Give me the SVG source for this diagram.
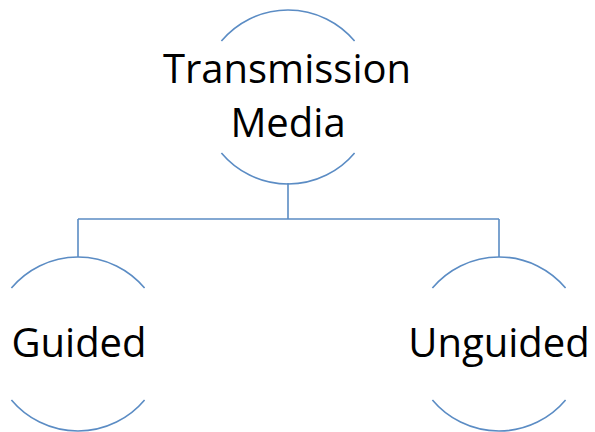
<svg xmlns="http://www.w3.org/2000/svg" width="595" height="432" viewBox="0 0 595 432">
<style>
.arc{fill:none;stroke:#5B8CC4;stroke-width:1.6}
.ln{fill:none;stroke:#5B8CC4;stroke-width:1.6}
.t{font-family:"Open Sans","Liberation Sans",sans-serif;font-size:40px;fill:#000;text-anchor:middle}
</style>
<rect width="595" height="432" fill="#fff"/>
<g id="connectors">
<path class="ln" d="M288 183 V219 M78 219 H499 M78 219 V257 M499 219 V257"/>
</g>
<g id="node-transmission">
<path class="arc" d="M221.4 41 A87 87 0 0 1 354.6 41"/>
<path class="arc" d="M221.4 153 A87 87 0 0 0 354.6 153"/>
<text class="t" x="287" y="83">Transmission</text>
<text class="t" x="288" y="137">Media</text>
</g>
<g id="node-guided">
<path class="arc" d="M11.4 288 A87 87 0 0 1 144.6 288"/>
<path class="arc" d="M11.4 400 A87 87 0 0 0 144.6 400"/>
<text class="t" x="79" y="357">Guided</text>
</g>
<g id="node-unguided">
<path class="arc" d="M432.4 288 A87 87 0 0 1 565.6 288"/>
<path class="arc" d="M432.4 400 A87 87 0 0 0 565.6 400"/>
<text class="t" x="499" y="357">Unguided</text>
</g>
</svg>
